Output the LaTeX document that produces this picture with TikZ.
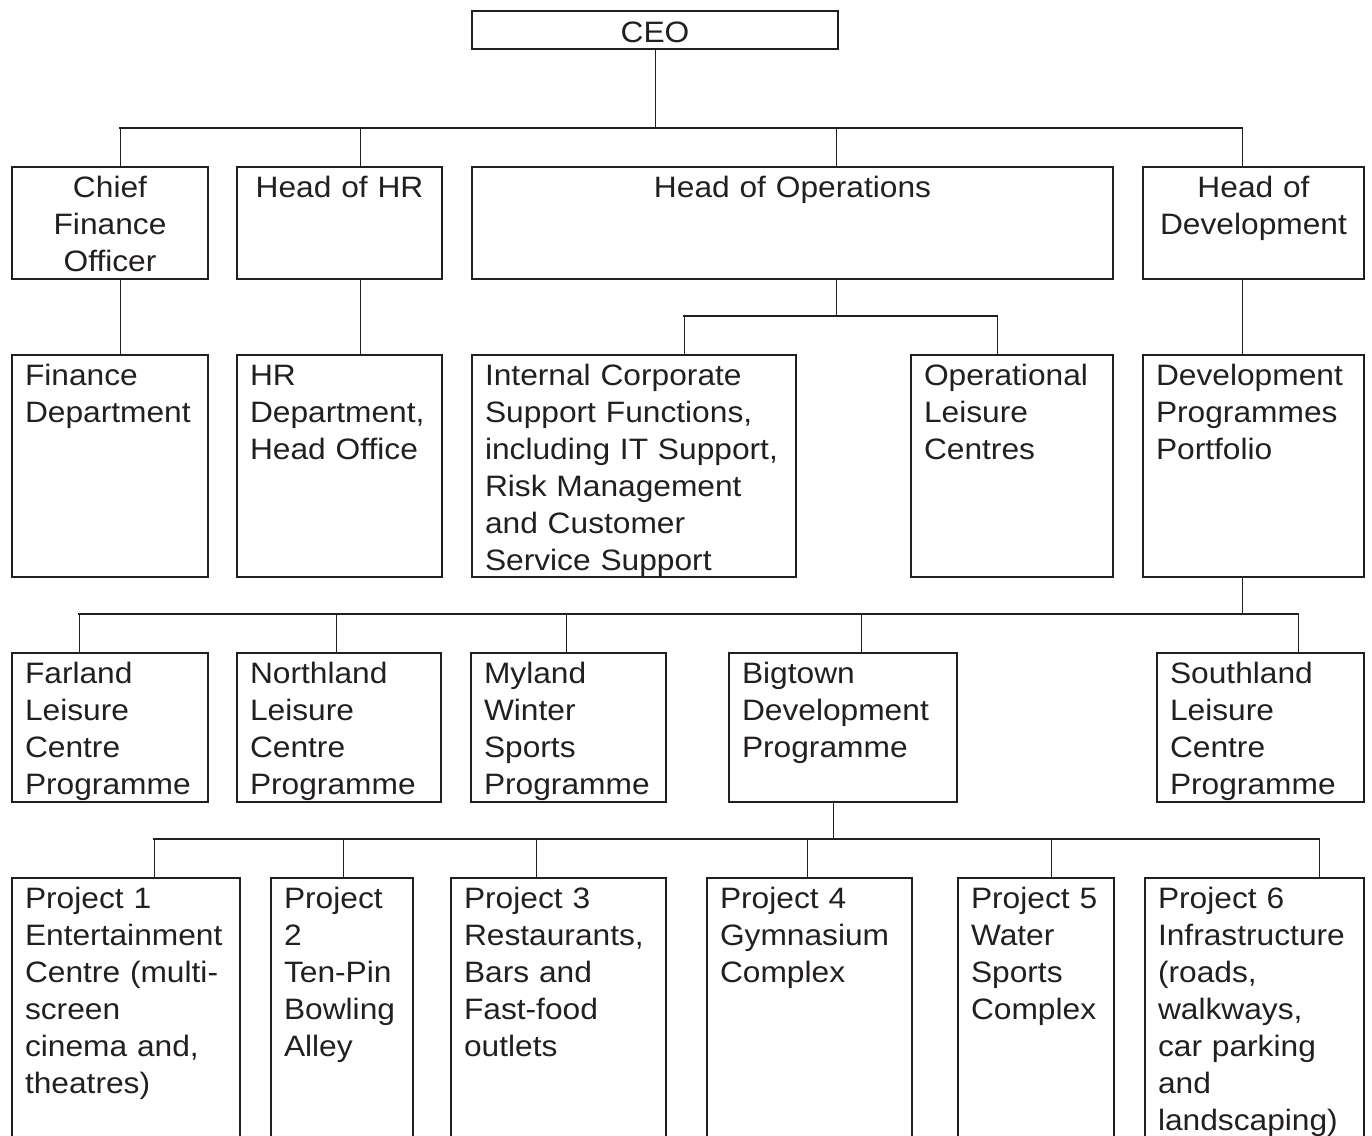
\documentclass[tikz,border=0pt]{standalone}
\usepackage{fontspec}
\setmainfont[FakeStretch=1.075]{Liberation Sans}
\definecolor{ink}{RGB}{35,31,32}
\begin{document}
\begin{tikzpicture}[x=1pt,y=-1pt,
  unit/.style={draw=ink,text=ink,line width=1.5pt,anchor=north west,outer sep=0pt,
    inner xsep=13pt,inner ysep=0pt,text height=30pt,align=left,
    font=\fontsize{29.5}{37}\selectfont},
  head/.style={unit,align=center},
  bus/.style={draw=ink,line width=1.6pt,line cap=rect},
  link/.style={draw=ink,line width=1pt}]
\useasboundingbox (0,0) rectangle (1372,1135);
\clip (0,0) rectangle (1372,1135);

\node[head,text width=340pt,text height=31pt,text depth=7pt] (ceo) at (472,11) {CEO};

\node[head,text width=170pt,text depth=82pt] (cfo) at (12,167) {Chief\\Finance\\Officer};
\node[head,text width=179pt,text depth=82pt] (hr) at (237,167) {Head of HR};
\node[head,text width=615pt,text depth=82pt] (ops) at (472,167) {Head of Operations};
\node[head,text width=195pt,text depth=82pt] (dev) at (1143,167) {Head of\\Development};

\node[unit,text width=170pt,text depth=192pt] (fin) at (12,355) {Finance\\Department};
\node[unit,text width=179pt,text depth=192pt] (hrd) at (237,355) {HR\\Department,\\Head Office};
\node[unit,text width=298pt,text depth=192pt] (icsf) at (472,355) {Internal Corporate\\Support Functions,\\including IT Support,\\Risk Management\\and Customer\\Service Support};
\node[unit,text width=176pt,text depth=192pt] (olc) at (911,355) {Operational\\Leisure\\Centres};
\node[unit,text width=195pt,text depth=192pt] (dpp) at (1143,355) {Development\\Programmes\\Portfolio};

\node[unit,text width=170pt,text depth=119pt] (far) at (12,653) {Farland\\Leisure\\Centre\\Programme};
\node[unit,text width=178pt,text depth=119pt] (nor) at (237,653) {Northland\\Leisure\\Centre\\Programme};
\node[unit,text width=169pt,text depth=119pt] (myl) at (471,653) {Myland\\Winter\\Sports\\Programme};
\node[unit,text width=202pt,text depth=119pt] (big) at (729,653) {Bigtown\\Development\\Programme};
\node[unit,text width=181pt,text depth=119pt] (sou) at (1157,653) {Southland\\Leisure\\Centre\\Programme};

\node[unit,text width=202pt,text depth=260pt] (p1) at (12,878) {Project 1\\Entertainment\\Centre (multi-\\screen\\cinema and,\\theatres)};
\node[unit,text width=116pt,text depth=260pt] (p2) at (271,878) {Project\\2\\Ten-Pin\\Bowling\\Alley};
\node[unit,text width=189pt,text depth=260pt] (p3) at (451,878) {Project 3\\Restaurants,\\Bars and\\Fast-food\\outlets};
\node[unit,text width=179pt,text depth=260pt] (p4) at (707,878) {Project 4\\Gymnasium\\Complex};
\node[unit,text width=130pt,text depth=260pt] (p5) at (958,878) {Project 5\\Water\\Sports\\Complex};
\node[unit,text width=193pt,text depth=260pt] (p6) at (1145,878) {Project 6\\Infrastructure\\(roads,\\walkways,\\car parking\\and\\landscaping)};

\draw[link] (ceo.south) -- ++(0,79);
\draw[bus] ([shift={(10,-39)}]cfo.north) -- ([shift={(-11.5,-39)}]dev.north);
\foreach \n/\s in {cfo/10,hr/20.5,ops/43.5,dev/-11.5}
  \draw[link] ([xshift=\s pt]\n.north) -- ++(0,-39);

\draw[link] ([xshift=10pt]cfo.south) -- ([xshift=10pt]fin.north);
\draw[link] ([xshift=20.5pt]hr.south) -- ([xshift=20.5pt]hrd.north);
\draw[link] ([xshift=-11.5pt]dev.south) -- ([xshift=-11.5pt]dpp.north);

\draw[link] ([xshift=43.5pt]ops.south) -- ++(0,37);
\draw[bus] ([shift={(50,-39)}]icsf.north) -- ([shift={(-15,-39)}]olc.north);
\foreach \n/\s in {icsf/50,olc/-15}
  \draw[link] ([xshift=\s pt]\n.north) -- ++(0,-39);

\draw[link] ([xshift=-11.5pt]dpp.south) -- ++(0,37);
\draw[bus] ([shift={(-31,-39)}]far.north) -- ([shift={(37.5,-39)}]sou.north);
\foreach \n/\s in {far/-31,nor/-3,myl/-2,big/18,sou/37.5}
  \draw[link] ([xshift=\s pt]\n.north) -- ++(0,-39);

\draw[link] ([xshift=-10pt]big.south) -- ++(0,37);
\draw[bus] ([shift={(28,-39)}]p1.north) -- ([shift={(64.5,-39)}]p6.north);
\foreach \n/\s in {p1/28,p2/1,p3/-22.5,p4/-2.5,p5/15,p6/64.5}
  \draw[link] ([xshift=\s pt]\n.north) -- ++(0,-39);
\end{tikzpicture}
\end{document}
